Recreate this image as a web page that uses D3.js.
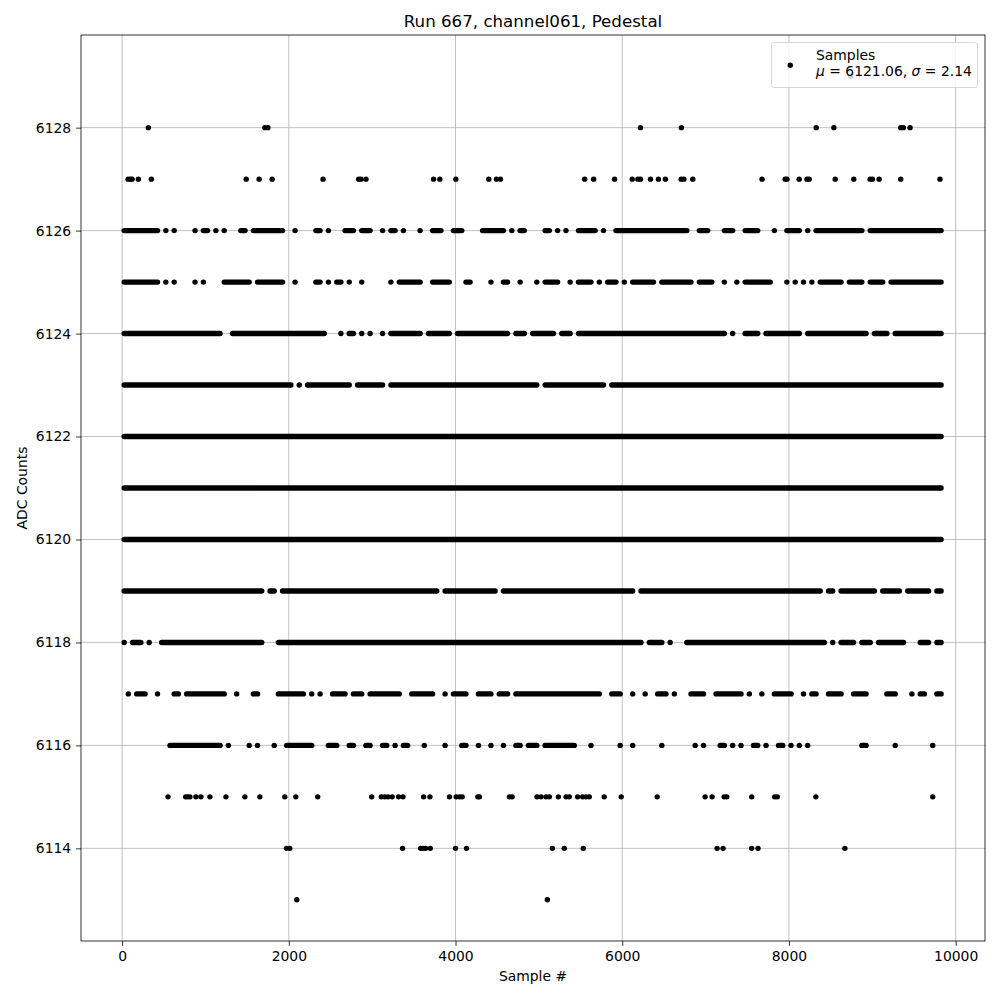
<!DOCTYPE html>
<html><head><meta charset="utf-8">
<script src="https://cdn.jsdelivr.net/npm/d3@7"></script>
<style>
body{margin:0;background:#fff}
svg{display:block}
text{font-family:"DejaVu Sans",sans-serif;fill:#000}
</style>
</head><body>
<svg id="chart" width="1000" height="1000"></svg>
<script>
// ---------------- data ----------------
const chartTitle = "Run 667, channel061, Pedestal";
const xLabel = "Sample #";
const yLabel = "ADC Counts";
const xTicks = [0, 2000, 4000, 6000, 8000, 10000];
const yTicks = [6114, 6116, 6118, 6120, 6122, 6124, 6126, 6128];
const sampleCount = 9860;
const legendLabel = "Samples";
const meanValue = 6121.06;
const sigmaValue = 2.14;

// Dense ADC levels: occupied sample bins (bin = 50 samples)
const binWidth = 50;
const denseLevels = [6116, 6117, 6118, 6119, 6120, 6121, 6122, 6123, 6124, 6125, 6126];
const denseBins = [
  "11-23 25 30 32 36 39-45 49-51 54-55 58-59 62-63 65 67-68 72 77 81-82 85 88 91 94-95 97-99 101-108 112 119 122 129 137 139 143-144 146 148 151-152 154 157-158 160 162 164 177-178 185 194",
  "1 3-5 8 12-13 15-24 27 31-32 37-43 45 47 50-53 55-57 59-66 69-74 77 79-82 85-88 90-92 94-114 117-119 122 125 128-130 132 136-139 142-148 150 153 156-160 163 165-166 169-172 175-178 183-185 189 191-192 195-196",
  "0 2-4 6 9-33 37-124 126-129 131 135-168 170 172-175 177-179 181-187 191-193 195-196",
  "0-33 35-36 38-75 77-89 91-122 124-167 169-170 172-180 182-186 188-193 195-196",
  "0-196",
  "0-196",
  "0-196",
  "0-40 42 44-54 56-62 64-99 101-115 117-196",
  "0-23 26-48 52 54-55 57 59 62 64-71 73-78 80-92 94-96 98-103 105-107 109-144 146 149-152 154-162 164-178 180-183 185-196",
  "0-8 10 12 17 19 24-30 32-38 41 46-47 49 51-52 54 57 64 66-71 74-78 82-83 88 91-92 95 99 101-104 107 109-112 114 116-118 120 122-127 129-136 138-141 144 147 149-155 159 161 163 165 167-172 174-177 179-182 184-196",
  "0-8 10 12 17 19-20 22 24 28-29 31-38 41 46-47 49 53-55 57-59 62 64-65 67 71 74-76 79-81 86-91 93 95-96 101-102 104 106 109-113 115 118-135 138-140 144-146 149-152 156 159-162 164 166-177 179-196"
];

// Sparse ADC levels: individual sample numbers
const sparseLevels = [6113, 6114, 6115, 6127, 6128, 6129];
const sparseSamples = [
  [2096, 5102],
  [1972, 2012, 3365, 3581, 3610, 3641, 3697, 4000, 4132, 5162, 5305, 5533, 7138, 7210, 7553, 7629, 8671],
  [551, 763, 787, 814, 886, 946, 1054, 1246, 1473, 1653, 1952, 2084, 2347, 2994, 3110, 3150, 3190, 3240, 3317, 3370, 3617, 3693, 3928, 4008, 4048, 4080, 4268, 4287, 4647, 4679, 4978, 5026, 5086, 5126, 5234, 5326, 5365, 5465, 5525, 5565, 5605, 5784, 5988, 6419, 6994, 7078, 7222, 7254, 7553, 7829, 7861, 8323, 9725],
  [72, 100, 120, 195, 351, 1489, 1644, 1800, 2411, 2838, 2866, 2926, 3737, 3812, 4004, 4399, 4491, 4539, 5549, 5657, 5908, 6120, 6188, 6219, 6339, 6434, 6518, 6707, 6739, 6846, 7677, 7955, 7976, 8123, 8216, 8243, 8555, 8778, 8974, 9002, 9082, 9341, 9812],
  [315, 1713, 1749, 6219, 6710, 8327, 8539, 9341, 9373, 9453],
  [8743]
];

// ---------------- build mark tables ----------------
function parseRuns(s) {
  // each token "a-b" or "a" is a run of consecutive occupied bins
  return s.trim().split(/\s+/).map(tok => {
    const p = tok.split("-").map(Number);
    return [p[0], p.length > 1 ? p[1] : p[0]];
  });
}
const runs = [];
denseLevels.forEach((lvl, i) => {
  parseRuns(denseBins[i]).forEach(r => runs.push({
    x0: r[0] * binWidth + binWidth / 2,
    x1: r[1] * binWidth + binWidth / 2,
    y: lvl
  }));
});
const points = [];
sparseLevels.forEach((lvl, i) => {
  sparseSamples[i].forEach(s => points.push({x: s, y: lvl}));
});

// ---------------- layout ----------------
const L = 81, R = 985, T = 35, B = 941;
const svg = d3.select("#chart");
const allLevels = denseLevels.concat(sparseLevels);
const yMin = d3.min(allLevels), yMax = d3.max(allLevels);
const xMin = 0, xMax = sampleCount - 1;
const xm = (xMax - xMin) * 0.05, ym = (yMax - yMin) * 0.05;
const x = d3.scaleLinear().domain([xMin - xm, xMax + xm]).range([L, R]);
const y = d3.scaleLinear().domain([yMin - ym, yMax + ym]).range([B, T]);
const dotR = 2.7;

svg.append("rect").attr("x", 0).attr("y", 0).attr("width", 1000).attr("height", 1000).attr("fill", "#fff");

// grid
const grid = svg.append("g").attr("stroke", "#b0b0b0").attr("stroke-width", 0.8);
xTicks.forEach(t => grid.append("line").attr("x1", x(t)).attr("x2", x(t)).attr("y1", T).attr("y2", B));
yTicks.forEach(t => grid.append("line").attr("x1", L).attr("x2", R).attr("y1", y(t)).attr("y2", y(t)));

// marks
const clip = svg.append("clipPath").attr("id", "plotclip");
clip.append("rect").attr("x", L).attr("y", T).attr("width", R - L).attr("height", B - T);
const plot = svg.append("g").attr("clip-path", "url(#plotclip)");
// dense levels: runs of overlapping sample dots -> round-capped strokes of dot diameter
plot.append("g").selectAll("path").data(runs).join("path")
  .attr("d", d => `M${x(d.x0)},${y(d.y)}L${x(d.x1) + 0.01},${y(d.y)}`)
  .attr("stroke", "#000").attr("stroke-width", dotR * 2).attr("stroke-linecap", "round").attr("fill", "none");
plot.append("g").selectAll("circle").data(points).join("circle")
  .attr("cx", d => x(d.x)).attr("cy", d => y(d.y)).attr("r", dotR).attr("fill", "#000");

// axes
const fs = 13.9;
const xAxis = d3.axisBottom(x).tickValues(xTicks).tickSize(4.9).tickPadding(5.4).tickFormat(d3.format("d"));
const gx = svg.append("g").attr("transform", `translate(0,${B})`).call(xAxis);
const yAxis = d3.axisLeft(y).tickValues(yTicks).tickSize(4.9).tickPadding(4.9).tickFormat(d3.format("d"));
const gy = svg.append("g").attr("transform", `translate(${L},0)`).call(yAxis);
[gx, gy].forEach(g => {
  g.select(".domain").remove();
  g.selectAll(".tick line").attr("stroke", "#000").attr("stroke-width", 0.8);
  g.selectAll(".tick text").attr("font-size", fs).attr("font-family", "DejaVu Sans").attr("fill", "#000");
});

// spines
svg.append("rect").attr("x", L).attr("y", T).attr("width", R - L).attr("height", B - T)
  .attr("fill", "none").attr("stroke", "#000").attr("stroke-width", 0.8);

// title & labels
svg.append("text").attr("x", (L + R) / 2).attr("y", 27).attr("text-anchor", "middle")
  .attr("font-size", 16.67).text(chartTitle);
svg.append("text").attr("x", (L + R) / 2).attr("y", 981).attr("text-anchor", "middle")
  .attr("font-size", fs).text(xLabel);
svg.append("text").attr("transform", `translate(27,${(T + B) / 2}) rotate(-90)`).attr("text-anchor", "middle")
  .attr("font-size", fs).text(yLabel);

// legend
const lg = svg.append("g");
lg.append("rect").attr("x", 771.5).attr("y", 42.5).attr("width", 206).attr("height", 45).attr("rx", 3).attr("ry", 3)
  .attr("fill", "#fff").attr("fill-opacity", 0.8).attr("stroke", "#cccccc").attr("stroke-opacity", 0.8).attr("stroke-width", 1);
lg.append("circle").attr("cx", 790.3).attr("cy", 65.3).attr("r", dotR).attr("fill", "#000");
lg.append("text").attr("x", 816).attr("y", 59.5).attr("font-size", fs).text(legendLabel);
const mt = lg.append("text").attr("x", 816).attr("y", 75.5).attr("font-size", fs);
mt.append("tspan").attr("font-style", "italic").text("\u03bc");
mt.append("tspan").text(" = " + meanValue.toFixed(2) + ", ");
mt.append("tspan").attr("font-style", "italic").text("\u03c3");
mt.append("tspan").text(" = " + sigmaValue.toFixed(2));
</script>
</body></html>
